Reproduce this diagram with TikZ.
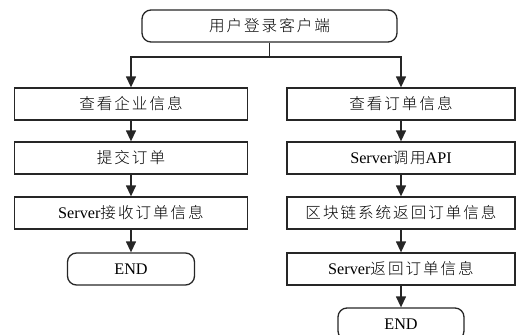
\documentclass[tikz,border=0pt]{standalone}
\usepackage{fontspec}
\setmainfont{Liberation Serif}
\newfontfamily\cjk{Noto Sans CJK SC Light}[Scale=0.96]
\usetikzlibrary{arrows.meta}

% Chinese text with a fixed gap between the characters
\newlength\zhsp
\setlength\zhsp{2pt}
\newcommand\zh[1]{{\cjk\zhfirst#1\relax}}
\def\zhfirst#1{#1\zhrest}
\def\zhrest#1{\ifx#1\relax\else\kern\zhsp#1\expandafter\zhrest\fi}

\tikzset{
  proc/.style={draw=black!85, line width=1.3pt, minimum height=32pt,
    inner sep=0pt, font=\fontsize{16.2}{18}\selectfont},
  term/.style={proc, rounded corners=9pt},
  flow/.style={line width=1.3pt, draw=black!85,
    -{Triangle[length=11pt,width=10pt]}},
  link/.style={line width=1.3pt, draw=black!85}
}

\begin{document}
\begin{tikzpicture}[x=1pt,y=-1pt]
\useasboundingbox (0,0) rectangle (523,335);

% start
\node[term, minimum width=255pt] (start) at (269.5,26) {\zh{用户登录客户端}};

% left branch
\node[proc, minimum width=233pt] (l1) at (131,104) {\zh{查看企业信息}};
\node[proc, minimum width=233pt] (l2) at (131,158) {\zh{提交订单}};
\node[proc, minimum width=233pt] (l3) at (131,213) {Server\zh{接收订单信息}};
\node[term, minimum width=127pt] (lend) at (131,269) {END};

% right branch
\node[proc, minimum width=228pt] (r1) at (401,104) {\zh{查看订单信息}};
\node[proc, minimum width=228pt] (r2) at (401,158) {Server\zh{调用}API};
\node[proc, minimum width=228pt] (r3) at (401,213) {\zh{区块链系统返回订单信息}};
\node[proc, minimum width=228pt] (r4) at (401,269) {Server\zh{返回订单信息}};
\node[term, minimum width=126pt] (rend) at (401,324) {END};

% split from the start node
\coordinate (split) at (269.5,57);
\draw[link] (start.south) -- (split);
\draw[flow] (split) -| (l1.north);
\draw[flow] (split) -| (r1.north);

% left chain
\draw[flow] (l1) -- (l2);
\draw[flow] (l2) -- (l3);
\draw[flow] (l3) -- (lend);

% right chain
\draw[flow] (r1) -- (r2);
\draw[flow] (r2) -- (r3);
\draw[flow] (r3) -- (r4);
\draw[flow] (r4) -- (rend);
\end{tikzpicture}
\end{document}
